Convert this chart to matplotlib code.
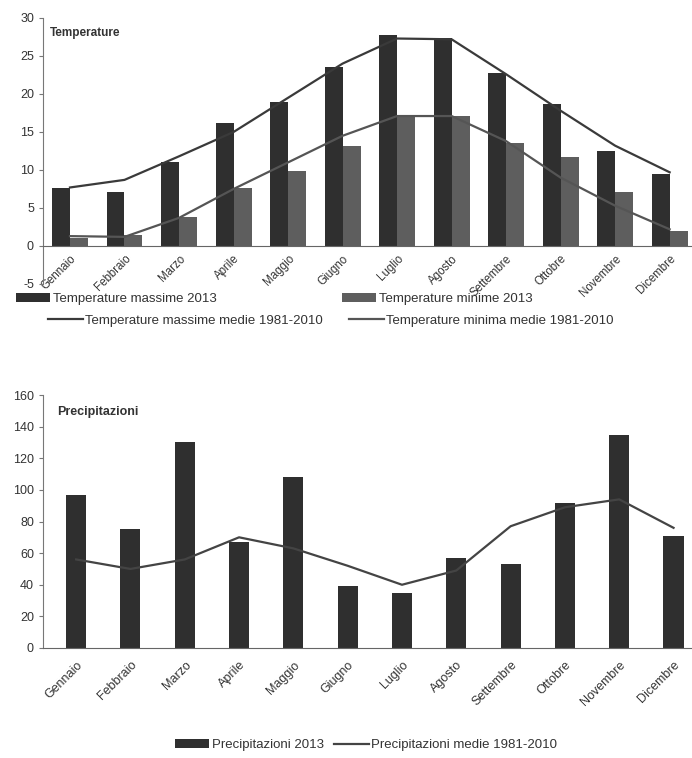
import numpy as np
import matplotlib
matplotlib.use("Agg")
import matplotlib.pyplot as plt
from matplotlib.patches import Patch
from matplotlib.lines import Line2D

plt.rcParams['font.family'] = ['Liberation Sans', 'DejaVu Sans']
plt.rcParams['axes.unicode_minus'] = False

# Month labels (Italian)
mesi = ['Gennaio', 'Febbraio', 'Marzo', 'Aprile', 'Maggio', 'Giugno',
        'Luglio', 'Agosto', 'Settembre', 'Ottobre', 'Novembre', 'Dicembre']

# Temperatures 2013 (bars) and 1981-2010 means (lines)
t_max_2013 = [7.6, 7.1, 11.0, 16.2, 18.9, 23.5, 27.7, 27.4, 22.8, 18.7, 12.5, 9.5]
t_min_2013 = [1.1, 1.4, 3.8, 7.6, 9.9, 13.2, 17.1, 17.1, 13.6, 11.7, 7.1, 2.0]
t_max_medie = [7.7, 8.7, 11.8, 15.0, 19.5, 24.0, 27.3, 27.2, 22.6, 17.8, 13.2, 9.7]
t_min_medie = [1.3, 1.2, 3.7, 7.5, 11.0, 14.5, 17.1, 17.1, 13.8, 9.0, 5.3, 2.2]

# Precipitation (mm)
prec_2013 = [97, 75, 130, 67, 108, 39, 35, 57, 53, 92, 135, 71]
prec_medie = [56, 50, 56, 70, 63, 52, 40, 49, 77, 89, 94, 76]

W, H = 692, 758
fig = plt.figure(figsize=(W / 100, H / 100), dpi=100)

def box(x0, y0, x1, y1):
    # pixel box -> figure fraction
    return [x0 / W, 1 - y1 / H, (x1 - x0) / W, (y1 - y0) / H]

c_max = '#2f2f2f'
c_min = '#5e5e5e'
c_text = '#333333'
x = np.arange(12)

# ---------- Temperature ----------
ax1 = fig.add_axes(box(43, 18, 692, 284))
ax1.spines['bottom'].set_position(('data', 0))  # before tick labels (it resets them)
bw = 0.33
ax1.bar(x - bw / 2, t_max_2013, width=bw, color=c_max)
ax1.bar(x + bw / 2, t_min_2013, width=bw, color=c_min)
ax1.plot(x, t_max_medie, color='#3a3a3a', lw=1.6)
ax1.plot(x, t_min_medie, color='#555555', lw=1.6)
ax1.set_ylim(-5, 30)
ax1.set_xlim(-0.495, 11.41)
ax1.set_yticks(range(-5, 31, 5))
ax1.set_xticks(x)
ax1.set_xticklabels(mesi, rotation=45, ha='right', rotation_mode='anchor', fontsize=8.3, color=c_text)
ax1.text(0.01, 0.944, 'Temperature', transform=ax1.transAxes, fontsize=8.5,
         fontweight='bold', color=c_text, va='center')

# ---------- Precipitazioni ----------
ax2 = fig.add_axes(box(43, 395, 692, 648))
ax2.bar(x, prec_2013, width=0.37, color=c_max)
ax2.plot(x, prec_medie, color='#444444', lw=1.6)
ax2.set_ylim(0, 160)
ax2.set_xlim(-0.61, 11.34)
ax2.set_yticks(range(0, 161, 20))
ax2.set_xticks(x)
ax2.set_xticklabels(mesi, rotation=45, ha='right', rotation_mode='anchor', fontsize=9, color=c_text)
ax2.text(0.022, 0.933, 'Precipitazioni', transform=ax2.transAxes, fontsize=9,
         fontweight='bold', color=c_text, va='center')

for ax in (ax1, ax2):
    for s in ('top', 'right'):
        ax.spines[s].set_visible(False)
    ax.spines['left'].set_color('#777777')
    ax.spines['left'].set_linewidth(0.8)
    ax.spines['bottom'].set_color('#666666')
    ax.spines['bottom'].set_linewidth(0.8)
    ax.tick_params(axis='y', length=3, color='#777777', labelsize=9, labelcolor=c_text)
ax1.tick_params(axis='x', length=0, pad=5)
ax2.tick_params(axis='x', length=0, pad=8)

# ---------- Legends ----------
leg_kw = dict(frameon=False, fontsize=9.5, handlelength=2.6, handletextpad=0.2,
              borderaxespad=0, labelcolor=c_text)

h_max = Patch(facecolor=c_max)
h_min = Patch(facecolor=c_min)
h_lmax = Line2D([], [], color='#3a3a3a', lw=1.6)
h_lmin = Line2D([], [], color='#555555', lw=1.6)

fig.legend([h_max, h_min], ['Temperature massime 2013', 'Temperature minime 2013'],
           loc='center', bbox_to_anchor=(274 / W, 1 - 299 / H), ncol=2,
           columnspacing=9.5, **leg_kw)
fig.legend([h_lmax, h_lmin], ['Temperature massime medie 1981-2010', 'Temperature minima medie 1981-2010'],
           loc='center', bbox_to_anchor=(331 / W, 1 - 321 / H), ncol=2,
           columnspacing=2.0, **leg_kw)

h_prec = Patch(facecolor=c_max)
h_lprec = Line2D([], [], color='#444444', lw=1.6)
fig.legend([h_prec, h_lprec], ['Precipitazioni 2013', 'Precipitazioni medie 1981-2010'],
           loc='center', bbox_to_anchor=(366 / W, 1 - 745 / H), ncol=2,
           columnspacing=0.8, **leg_kw)

fig.savefig('out.png', dpi=100)
